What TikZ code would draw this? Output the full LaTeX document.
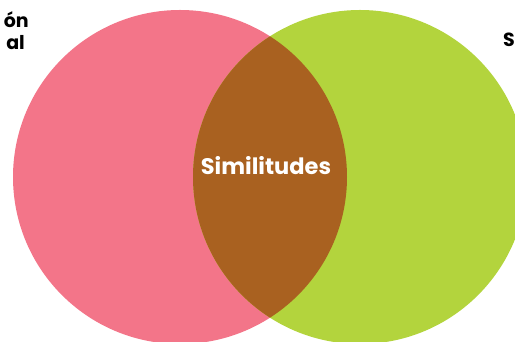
\documentclass[tikz,border=0pt]{standalone}
\usepackage{fontspec}
\setsansfont{Poppins}
\usepackage{tikz}
\usetikzlibrary{positioning}
\definecolor{cLeft}{HTML}{F37589}
\definecolor{cRight}{HTML}{B3D43D}
\definecolor{cBoth}{HTML}{A96120}
\tikzset{
  side label/.style={font=\sffamily\bfseries\fontsize{19}{22}\selectfont,text=black,inner sep=0pt},
  mid label/.style ={font=\sffamily\bfseries\fontsize{22.5}{26}\selectfont,text=white,inner sep=0pt},
}

\begin{document}
\begin{tikzpicture}[x=1pt,y=1pt]
  \useasboundingbox (0,0) rectangle (515,342);
  \coordinate (cl) at (180,165);
  \coordinate (cr) at (360,165);
  \fill[cLeft]  (cl) circle (167);
  \fill[cRight] (cr) circle (167);
  \begin{scope}
    \clip (cl) circle (167);
    \fill[cBoth] (cr) circle (167);
  \end{scope}
  \node[mid label] (sim) at (266,176) {Similitudes};
  \node[side label,anchor=base east] (top1) at (29,314) {ón};
  \node[side label,anchor=base east] (top2) at (25,292) {al};
  \node[side label,anchor=base west] (rgt) at (503,295) {S};
\end{tikzpicture}
\end{document}
